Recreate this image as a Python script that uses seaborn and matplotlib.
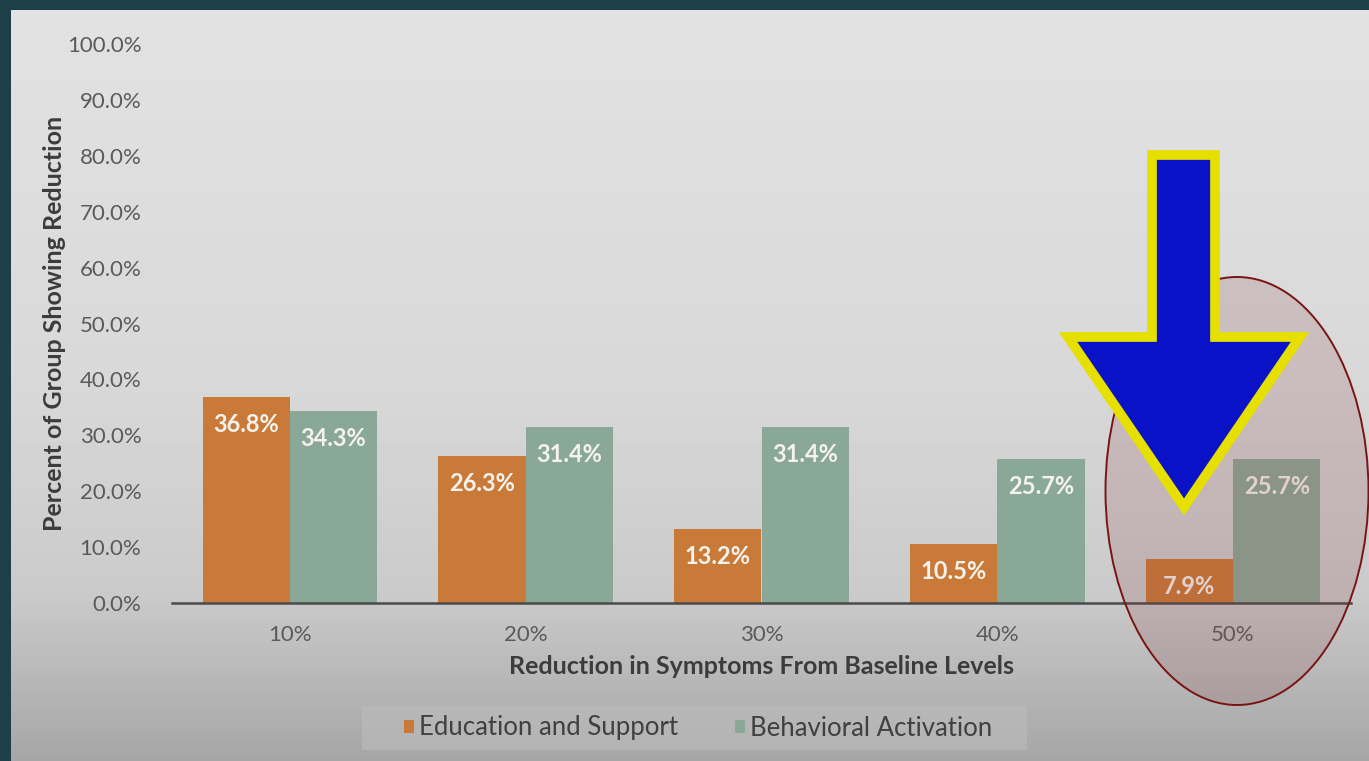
import numpy as np
import pandas as pd
import seaborn as sns
import matplotlib.pyplot as plt
from matplotlib.patches import Ellipse, Polygon, Rectangle
from matplotlib.ticker import FuncFormatter

# chart data
categories = ["10%", "20%", "30%", "40%", "50%"]
education = [36.8, 26.3, 13.2, 10.5, 7.9]
behavioral = [34.3, 31.4, 31.4, 25.7, 25.7]
series_names = ["Education and Support", "Behavioral Activation"]

df = pd.DataFrame({
    "reduction": categories * 2,
    "pct": education + behavioral,
    "group": [series_names[0]] * 5 + [series_names[1]] * 5,
})

W, H = 1369, 761
sns.set_theme(style="white")
plt.rcParams["font.family"] = ["Lato", "DejaVu Sans"]

fig = plt.figure(figsize=(W / 100, H / 100), dpi=100)
fig.patch.set_facecolor("#1d3f47")


def fx(x):
    return x / W


def fy(y):
    return 1 - y / H


# slide background with vertical gradient
bg = fig.add_axes([fx(11), 0, 1 - fx(11), fy(10)], zorder=-5)
rows = np.linspace(0, 1, 200)
shade = np.interp(rows, [0, 0.5, 0.78, 1.0], [226, 216, 202, 166]) / 255
img = np.repeat(shade[:, None], 2, axis=1)
bg.imshow(img, cmap="gray", vmin=0, vmax=1, aspect="auto", extent=[0, 1, 1, 0])
bg.set_axis_off()

ax = fig.add_axes([fx(172), fy(603), fx(1351) - fx(172), fy(44) - fy(603)])
ax.patch.set_alpha(0)

sns.barplot(data=df, x="reduction", y="pct", hue="group",
            palette=["#c97a38", "#8aa898"], width=0.74, gap=0,
            saturation=1, linewidth=0, ax=ax, legend=True)

for cont in ax.containers:
    ax.bar_label(cont, fmt="{:.1f}%", padding=-28, color="#f6f2ec",
                 fontsize=17, fontweight="bold")

ax.set_ylim(0, 100)
ax.set_xlim(-0.5, 4.5)
ax.set_yticks(np.arange(0, 101, 10))
ax.yaxis.set_major_formatter(FuncFormatter(lambda v, p: f"{v:.1f}%"))
ax.tick_params(axis="both", length=0, labelsize=16, colors="#5a5a5a")
ax.tick_params(axis="y", pad=22)
ax.tick_params(axis="x", pad=16)
for s in ["top", "right", "left"]:
    ax.spines[s].set_visible(False)
ax.spines["bottom"].set_color("#4a4a4a")
ax.spines["bottom"].set_linewidth(1.8)

ax.set_xlabel("Reduction in Symptoms From Baseline Levels", fontsize=18,
              fontweight="bold", color="#3c3c3c")
ax.set_ylabel("Percent of Group Showing Reduction", fontsize=18,
              fontweight="bold", color="#3c3c3c")
ax.xaxis.set_label_coords(0.5, (603 - 667) / 559, transform=ax.transAxes)
ax.yaxis.set_label_coords((55 - 172) / 1179, 0.5, transform=ax.transAxes)
ax.xaxis.label.set_va("center")
ax.yaxis.label.set_va("center")

# legend box drawn behind a frameless legend
box = Rectangle((fx(362), fy(750)), fx(1027) - fx(362), 44 / H,
                transform=fig.transFigure, facecolor="#bcbcbc", alpha=0.6,
                edgecolor="none", zorder=-1)
fig.patches.append(box)
leg = ax.legend(loc="center", bbox_to_anchor=(fx(698), fy(728)),
                bbox_transform=fig.transFigure, ncol=2, fontsize=18.5,
                frameon=False, handlelength=0.4, handleheight=0.4,
                handletextpad=0.2, columnspacing=2.2)
for t in leg.get_texts():
    t.set_color("#404040")

# highlight ellipse around the 50% group
ell = Ellipse((fx(1237), fy(491)), fx(263), 428 / H, angle=0,
              transform=fig.transFigure, facecolor=(0.55, 0.25, 0.25, 0.18),
              edgecolor="#7a1414", linewidth=1.4, zorder=10)
fig.patches.append(ell)

# arrow pointing down to the 50% group
pts = [(1152, 155), (1215, 155), (1215, 337), (1300, 337), (1184, 507),
       (1068, 337), (1152, 337)]
arrow = Polygon([(fx(x), fy(y)) for x, y in pts], closed=True,
                transform=fig.transFigure, facecolor="#0a12c8",
                edgecolor="#e6e000", linewidth=7, joinstyle="miter", zorder=11)
fig.patches.append(arrow)

fig.savefig("out.png", dpi=100, facecolor=fig.get_facecolor())
